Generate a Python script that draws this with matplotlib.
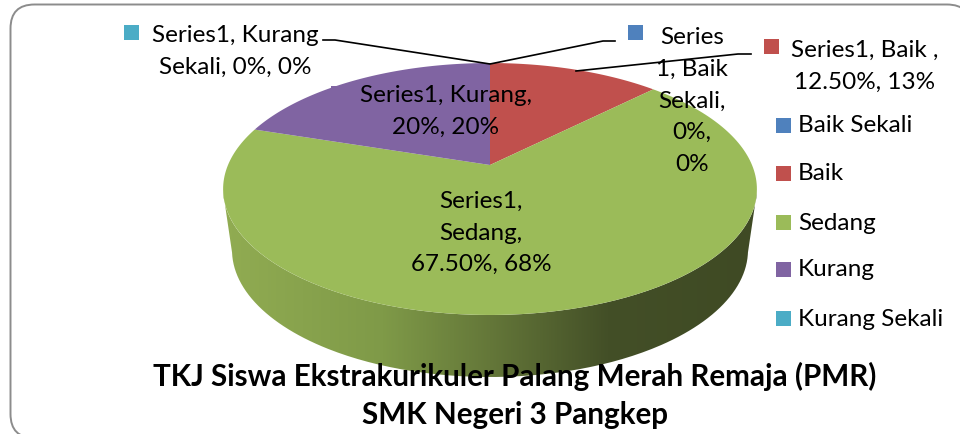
#!/usr/bin/env python3

import numpy as np
import matplotlib.pyplot as plt
from matplotlib.patches import FancyBboxPatch, PathPatch, Polygon, Rectangle
from matplotlib.path import Path
from matplotlib.colors import LinearSegmentedColormap

plt.rcParams['font.family'] = ['Lato', 'DejaVu Sans']

# Chart data
categories = ['Baik Sekali', 'Baik', 'Sedang', 'Kurang', 'Kurang Sekali']
values = [0.0, 12.5, 67.5, 20.0, 0.0]
colors = ['#4F81BD', '#C0504D', '#9BBB59', '#8064A2', '#4BACC6']
titleLines = ['TKJ Siswa Ekstrakurikuler Palang Merah Remaja (PMR)', 'SMK Negeri 3 Pangkep']

W = 960
H = 434

# Pie projection, in pixels of the image
cx = 490.0
cyTop = 165.0
ax3d = 262.0
by3d = 121.4
k3d = 0.1905
cyBot = 250.0
rxBot = 258.0
ryBot = 127.0
topCy = 189.0
topRx = 267.0
topRy = 126.0


def project(theta):
    # theta in radians clockwise from the top of the pie
    u = np.sin(theta)
    v = -np.cos(theta)
    d = 1.0 - k3d*v
    return cx + ax3d*u/d, cyTop + by3d*v/d


def wedge(start, stop):
    t = np.linspace(start, stop, 200)
    x, y = project(t)
    return np.column_stack([np.r_[cx, x], np.r_[cyTop, y]])


fig = plt.figure(figsize=(W/100, H/100), dpi=100)
ax = fig.add_axes([0, 0, 1, 1])
ax.set_xlim(0, W)
ax.set_ylim(H, 0)
ax.axis('off')

# Rounded chart frame
frame = FancyBboxPatch((10.5, 4.5), 960.5, 433.5, boxstyle='round,pad=0,rounding_size=24',
                       facecolor='white', edgecolor='#8c8c8c', linewidth=1.4, zorder=0)
ax.add_patch(frame)

# Side of the pie, shaded across
t = np.linspace(np.pi/2 + 0.02, 3*np.pi/2 - 0.02, 200)
xTop = topRx*np.sin(t) + cx
yTop = topCy - topRy*np.cos(t)
xBot = rxBot*np.sin(t) + cx
yBot = cyBot - ryBot*np.cos(t)
sidePath = Path(np.column_stack([np.r_[xTop, xBot[::-1]], np.r_[yTop, yBot[::-1]]]))
sideCmap = LinearSegmentedColormap.from_list('side', [(0.0, '#91AC52'), (0.3, '#7F9A48'),
                                                      (0.5, '#647739'), (0.72, '#434F27'),
                                                      (1.0, '#3F4A24')])
grad = ax.imshow(np.linspace(0, 1, 256).reshape(1, -1), cmap=sideCmap, aspect='auto',
                 extent=[222, 758, 400, 180], zorder=1)
clip = PathPatch(sidePath, facecolor='none', edgecolor='none', transform=ax.transData)
ax.add_patch(clip)
grad.set_clip_path(clip)
ax.set_xlim(0, W)
ax.set_ylim(H, 0)

# Top of the pie, clockwise from the top
fracs = np.cumsum([0.0] + values)/100.0*2*np.pi
for i in range(len(values)):
    if values[i] > 0:
        ax.add_patch(Polygon(wedge(fracs[i], fracs[i+1]), closed=True, facecolor=colors[i],
                             edgecolor='none', zorder=2))

# Leader lines
ax.plot([323, 335, 490, 603, 615], [40, 40, 64, 41, 41], color='black', lw=1.2, zorder=4)
ax.plot([576, 738, 751], [71, 54, 54], color='black', lw=1.2, zorder=4)

fs = 17.5

# Data labels with their keys
labelKeys = [(124, 25, 4), (628, 25, 0), (764, 39, 1), (331, 86, 3), (384, 192, 2)]
for x, y, c in labelKeys:
    ax.add_patch(Rectangle((x, y), 15, 15, facecolor=colors[c], edgecolor='none', zorder=3))

labels = ['Series1, Kurang\nSekali, %g%%, %g%%' % (values[4], values[4]),
          'Series\n1, Baik\nSekali,\n%g%%,\n%g%%' % (values[0], values[0]),
          'Series1, Baik ,\n%.2f%%, 13%%' % values[1],
          'Series1, Kurang,\n%g%%, %g%%' % (values[3], values[3]),
          'Series1,\nSedang,\n%.2f%%, 68%%' % values[2]]
labelPos = [(235.5, 51), (692, 101), (865, 66), (446, 111), (481, 233)]
for s, (x, y) in zip(labels, labelPos):
    ax.text(x, y, s, ha='center', va='center', fontsize=fs, color='black',
            linespacing=1.63, zorder=5)

# Legend
legendY = [118, 166, 215, 262, 311]
for name, col, y in zip(categories, colors, legendY):
    ax.add_patch(Rectangle((776, y), 15, 15, facecolor=col, edgecolor='none', zorder=3))
    ax.text(798, y + 8, name, ha='left', va='center', fontsize=fs, color='black', zorder=5)

# Title
ax.text(515, 376, titleLines[0], ha='center', va='center', fontsize=21.3, fontweight='bold',
        color='black', zorder=6)
ax.text(515, 415, titleLines[1], ha='center', va='center', fontsize=21.3, fontweight='bold',
        color='black', zorder=6)

fig.savefig('out.png', dpi=100)
plt.close()
